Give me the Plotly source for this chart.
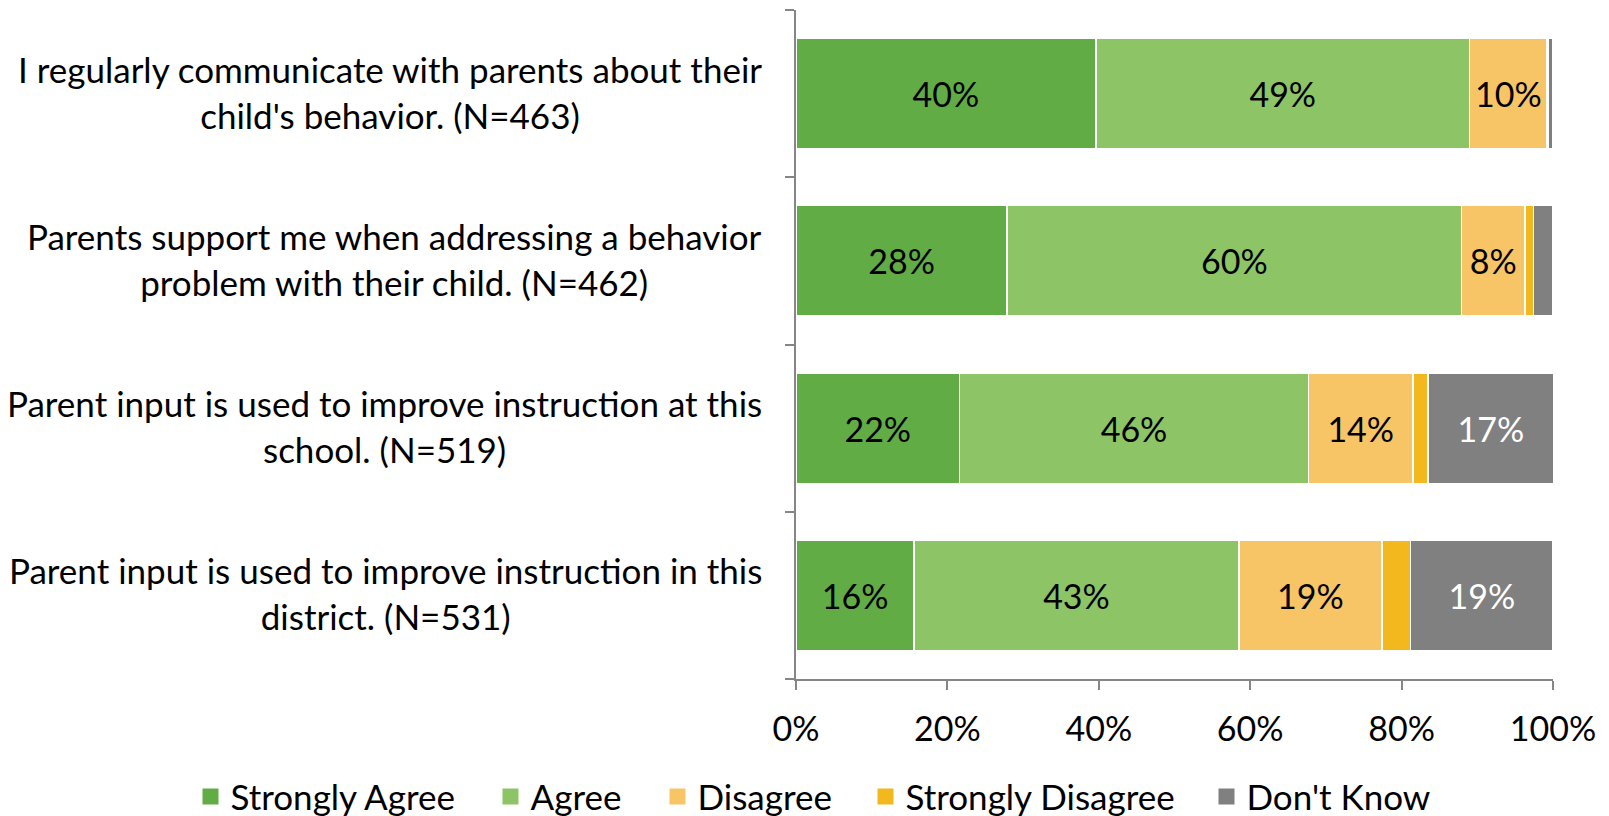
import plotly.graph_objects as go

categories = [
    "I regularly communicate with parents about their<br>child's behavior. (N=463)",
    "Parents support me when addressing a behavior<br>problem with their child. (N=462)",
    "Parent input is used to improve instruction at this<br>school. (N=519)",
    "Parent input is used to improve instruction in this<br>district. (N=531)",
]
series_names = ["Strongly Agree", "Agree", "Disagree", "Strongly Disagree", "Don't Know"]
strongly_agree = [39.6, 27.9, 21.6, 15.6]
agree = [49.4, 60.0, 46.1, 42.9]
disagree = [10.2, 8.4, 13.8, 18.9]
strongly_disagree = [0.2, 1.1, 2.0, 3.8]
dont_know = [0.6, 2.6, 16.6, 18.8]
x_ticks = [0, 0.2, 0.4, 0.6, 0.8, 1.0]
colors = ["#62AC46", "#8DC466", "#F7C566", "#F3B81E", "#808080"]
text_colors = ["black", "black", "black", "black", "white"]

FONT = "Lato"
FS = 34
FS_LABEL = 35

# legend entry left positions (figure pixels)
legend_px = [182.5, 482.5, 649.5, 857.5, 1198.5]
PLOT_L, PLOT_W = 788, 757

fig = go.Figure()
for k, (name, vals, col, tc) in enumerate(zip(series_names,
                               [strongly_agree, agree, disagree, strongly_disagree, dont_know],
                               colors, text_colors)):
    fig.add_trace(go.Bar(
        name=name,
        y=list(range(len(categories))),
        x=[v / 100 for v in vals],
        orientation="h",
        marker=dict(color=col, line=dict(color="white", width=1.5)),
        text=[f"{round(v)}%" if v >= 5 else "" for v in vals],
        textposition="inside",
        insidetextanchor="middle",
        textfont=dict(color=tc, size=FS, family=FONT),
        hoverinfo="skip",
        showlegend=False,
    ))
    lg = "legend" if k == 0 else f"legend{k + 1}"
    fig.add_trace(go.Scatter(
        name=name, x=[None], y=[None], mode="markers",
        marker=dict(symbol="square", size=18, color=col),
        legend=lg, showlegend=True, hoverinfo="skip",
    ))

for i, c in enumerate(categories):
    fig.add_annotation(
        x=-0.042, xref="paper", xanchor="right",
        y=i, yref="y", yanchor="middle", yshift=2,
        text=c, align="center", showarrow=False,
        font=dict(size=FS_LABEL, family=FONT, color="black"),
    )

legends = {}
for k, px in enumerate(legend_px):
    key = "legend" if k == 0 else f"legend{k + 1}"
    legends[key] = dict(orientation="h", x=(px - PLOT_L) / PLOT_W, xref="paper", xanchor="left",
                        y=-0.176, yref="paper", yanchor="middle",
                        font=dict(size=FS_LABEL, family=FONT), itemwidth=30,
                        bgcolor="rgba(0,0,0,0)")

fig.update_layout(
    barmode="stack",
    bargap=0.34,
    width=1609, height=816,
    margin=dict(l=788, r=64, t=2, b=145, autoexpand=False),
    paper_bgcolor="white", plot_bgcolor="white",
    font=dict(family=FONT, size=FS, color="black"),
    uniformtext=dict(minsize=FS, mode="show"),
    showlegend=True,
    **legends,
)
fig.update_xaxes(range=[0, 1], tickvals=x_ticks,
                 tickformat=".0%", showline=True, linecolor="#868686", linewidth=1.5,
                 ticks="outside", ticklen=9, tickcolor="#868686", tickwidth=1.5,
                 showgrid=False, zeroline=False, ticklabelstandoff=10,
                 tickfont=dict(size=FS, family=FONT))
fig.update_yaxes(type="linear", range=[3.5, -0.5], tickvals=[0, 1, 2, 3],
                 showticklabels=False, showline=True, linecolor="#868686", linewidth=1.5,
                 showgrid=False, zeroline=False)
fig.update_yaxes(minor=dict(tickvals=[-0.5, 0.5, 1.5, 2.5, 3.5], ticks="outside",
                            ticklen=9, tickcolor="#868686", tickwidth=1.5, showgrid=False))

fig.write_html("out.html")
